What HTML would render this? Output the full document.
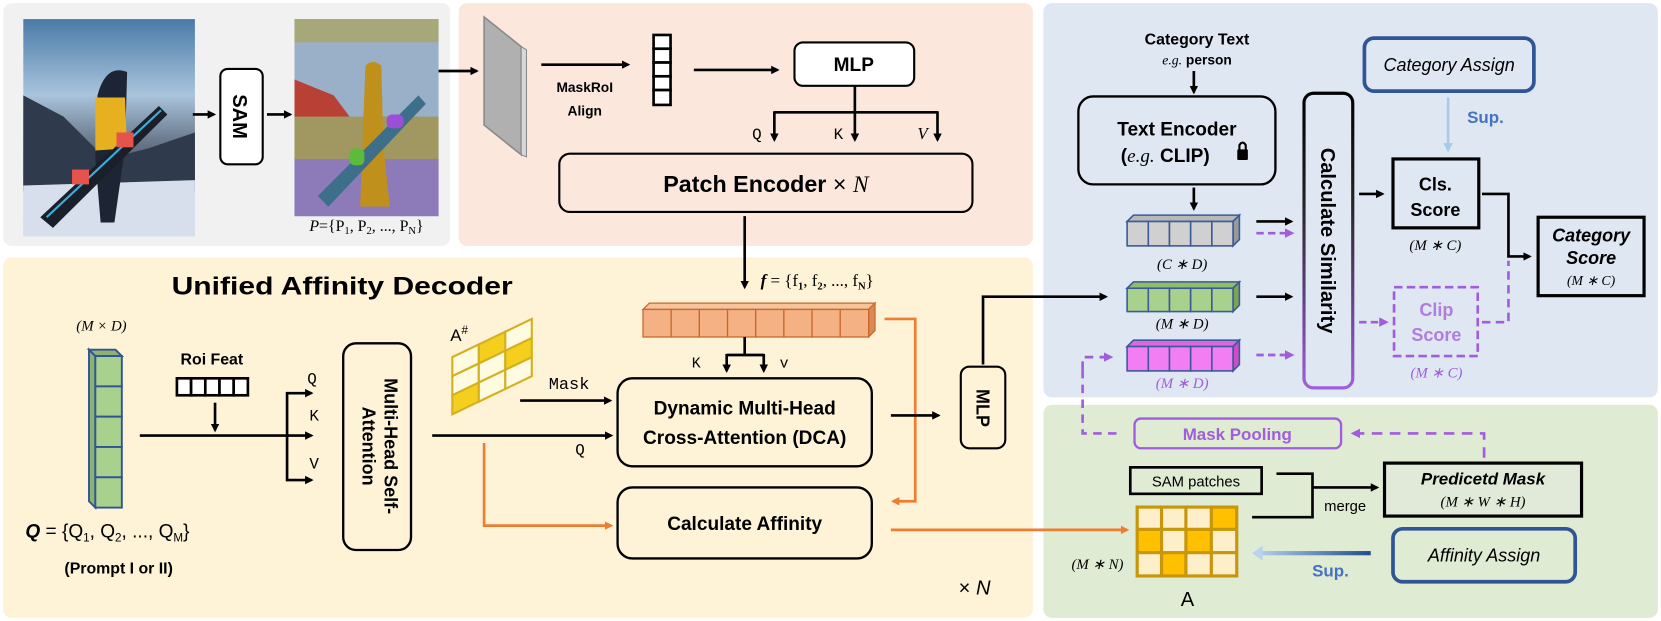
<!DOCTYPE html>
<html><head><meta charset="utf-8"><style>
html,body{margin:0;padding:0;background:#fff;overflow:hidden;}
svg{display:block;}
text{font-family:"Liberation Sans",sans-serif;}
.b{font-weight:bold;}
.m{font-family:"Liberation Serif",serif;font-style:italic;}
.mono{font-family:"Liberation Mono",monospace;}
</style></head><body>
<svg width="1661" height="621" viewBox="0 0 1568 586" preserveAspectRatio="none" xmlns="http://www.w3.org/2000/svg">
<defs>
<marker id="ab" markerWidth="8" markerHeight="8" refX="6" refY="4" orient="auto" markerUnits="userSpaceOnUse"><path d="M0,0 L8,4 L0,8 z" fill="#000"/></marker>
<marker id="ao" markerWidth="8" markerHeight="8" refX="6" refY="4" orient="auto" markerUnits="userSpaceOnUse"><path d="M0,0 L8,4 L0,8 z" fill="#ed7d31"/></marker>
<marker id="ap" markerWidth="9" markerHeight="9" refX="6" refY="4.5" orient="auto" markerUnits="userSpaceOnUse"><path d="M0,0 L9,4.5 L0,9 z" fill="#a25ddc"/></marker>
<marker id="al" markerWidth="9" markerHeight="9" refX="6" refY="4.5" orient="auto" markerUnits="userSpaceOnUse"><path d="M0,0 L9,4.5 L0,9 z" fill="#a9c9e8"/></marker>
<linearGradient id="sky" x1="0" y1="0" x2="0" y2="1"><stop offset="0" stop-color="#4a7aa8"/><stop offset="0.35" stop-color="#a9c4dc"/><stop offset="0.55" stop-color="#6d7d90"/><stop offset="0.75" stop-color="#3c4250"/><stop offset="0.8" stop-color="#dfe6f0"/><stop offset="1" stop-color="#c9d3e4"/></linearGradient>
<linearGradient id="sim" x1="0" y1="0" x2="0" y2="1"><stop offset="0" stop-color="#000"/><stop offset="0.35" stop-color="#222"/><stop offset="1" stop-color="#a25ddc"/></linearGradient>
<linearGradient id="sup" gradientUnits="userSpaceOnUse" x1="1294" y1="0" x2="1185" y2="0"><stop offset="0" stop-color="#1f4e8c"/><stop offset="1" stop-color="#b9d3ee"/></linearGradient>
</defs>

<!-- panels -->
<rect x="3" y="3" width="422" height="229" rx="8" fill="#f1f1f1"/>
<rect x="433" y="3" width="542" height="229" rx="8" fill="#fbe7dc"/>
<rect x="3" y="243" width="972" height="340" rx="8" fill="#fef2d7"/>
<rect x="985" y="3" width="580" height="372" rx="8" fill="#dfe7f2"/>
<rect x="985" y="382" width="580" height="201" rx="8" fill="#dfebd3"/>

<!-- photo 1 -->
<rect x="22" y="18" width="162" height="205" fill="url(#sky)"/>
<path d="M22,90 L60,110 L100,150 L140,140 L184,125 L184,180 L22,180z" fill="#2f3a4c"/>
<path d="M22,175 L184,170 L184,223 L22,223z" fill="#d7dfec"/>
<path d="M92,90 Q100,60 120,68 L118,140 L108,210 L95,210 L90,150z" fill="#1d2433"/>
<path d="M90,92 L118,92 L120,140 L90,142z" fill="#e6b020"/>
<path d="M38,205 L150,100 L158,108 L50,215z" fill="#1a1f2a"/>
<path d="M44,205 L152,104" stroke="#3ab0e0" stroke-width="2"/>
<rect x="68" y="160" width="16" height="14" fill="#e5534b"/>
<rect x="110" y="125" width="16" height="14" fill="#e5534b"/>
<path d="M182,108 L202,108" stroke="#000" stroke-width="2.5" marker-end="url(#ab)"/>
<rect x="208" y="65" width="40" height="90" rx="7" fill="#fff" stroke="#000" stroke-width="2"/>
<text class="b" font-size="19" transform="translate(220,110) rotate(90)" text-anchor="middle">SAM</text>
<path d="M252,108 L274,108" stroke="#000" stroke-width="2.5" marker-end="url(#ab)"/>
<!-- photo 2 -->
<rect x="278" y="18" width="136" height="186" fill="#9ab0c8"/>
<rect x="278" y="18" width="136" height="22" fill="#a6a87a"/>
<path d="M278,75 L315,90 L330,110 L278,112z" fill="#b84034"/>
<rect x="278" y="110" width="136" height="45" fill="#a09860"/>
<rect x="278" y="150" width="136" height="54" fill="#8d7ab8"/>
<path d="M345,62 Q352,55 360,62 L362,140 L368,195 L340,195 L342,140z" fill="#c0901c"/>
<path d="M300,185 L395,90 L402,98 L310,195z" fill="#3d6e8a"/>
<rect x="330" y="140" width="14" height="16" rx="5" fill="#5dbb3c"/>
<rect x="365" y="108" width="16" height="13" rx="5" fill="#9c4fd6"/>
<text x="346" y="218" font-size="15" text-anchor="middle" class="m">P<tspan font-style="normal">={P</tspan><tspan font-style="normal" font-size="10" dy="3">1</tspan><tspan font-style="normal" dy="-3">, P</tspan><tspan font-style="normal" font-size="10" dy="3">2</tspan><tspan font-style="normal" dy="-3">, ..., P</tspan><tspan font-style="normal" font-size="10" dy="3">N</tspan><tspan font-style="normal" dy="-3">}</tspan></text>

<!-- top peach -->
<path d="M414,67 L450,67" stroke="#000" stroke-width="2.5" marker-end="url(#ab)"/>
<path d="M457,16 L492,44 L492,146 L457,118z" fill="#b0b0b0" stroke="#8a8a8a" stroke-width="1.5"/>
<path d="M492,44 L497,47 L497,148 L492,146z" fill="#d8d8d8" stroke="#8a8a8a"/>
<path d="M511,61 L593,61" stroke="#000" stroke-width="2.5" marker-end="url(#ab)"/>
<text x="552" y="87" font-size="13" class="b" text-anchor="middle">MaskRoI</text>
<text x="552" y="109" font-size="13" class="b" text-anchor="middle">Align</text>
<g fill="#fff" stroke="#000" stroke-width="2.5"><rect x="617" y="33" width="16" height="13"/><rect x="617" y="46" width="16" height="13"/><rect x="617" y="59" width="16" height="13"/><rect x="617" y="72" width="16" height="13"/><rect x="617" y="85" width="16" height="14"/></g>
<path d="M655,66 L734,66" stroke="#000" stroke-width="2.5" marker-end="url(#ab)"/>
<rect x="750" y="40" width="113" height="41" rx="8" fill="#fff" stroke="#000" stroke-width="2"/>
<text x="806" y="67" font-size="18" class="b" text-anchor="middle">MLP</text>
<path d="M807,81 L807,132" stroke="#000" stroke-width="2.5" marker-end="url(#ab)"/>
<path d="M731,106 L885,106" fill="none" stroke="#000" stroke-width="2.5"/>
<path d="M731,105 L731,132" stroke="#000" stroke-width="2.5" marker-end="url(#ab)"/>
<path d="M885,105 L885,132" stroke="#000" stroke-width="2.5" marker-end="url(#ab)"/>
<text x="710" y="131" font-size="15" class="mono">Q</text>
<text x="787" y="131" font-size="15" class="mono">K</text>
<text x="866" y="131" font-size="16" class="m">V</text>
<rect x="528" y="145" width="390" height="55" rx="10" fill="#fbe7dc" stroke="#000" stroke-width="2"/>
<text x="723" y="181" font-size="22" class="b" text-anchor="middle">Patch Encoder <tspan font-weight="normal">×</tspan> <tspan class="m" font-weight="normal">N</tspan></text>
<path d="M703,204 L703,271" stroke="#000" stroke-width="2.5" marker-end="url(#ab)"/>
<text x="718" y="270" font-size="16" class="m" font-weight="bold">f<tspan font-weight="normal" font-style="normal"> = {f</tspan><tspan font-style="normal" font-size="10" dy="3">1</tspan><tspan font-style="normal" font-weight="normal" dy="-3">, f</tspan><tspan font-style="normal" font-size="10" dy="3">2</tspan><tspan font-style="normal" font-weight="normal" dy="-3">, ..., f</tspan><tspan font-style="normal" font-size="10" dy="3">N</tspan><tspan font-style="normal" font-weight="normal" dy="-3">}</tspan></text>

<!-- Decoder -->
<text x="162" y="278" font-size="24" class="b" textLength="322" lengthAdjust="spacingAndGlyphs">Unified Affinity Decoder</text>
<text x="72" y="312" font-size="14" class="m">(M × D)</text>
<g stroke="#2f5597" stroke-width="1.8" fill="#a9d18e">
<path d="M84,330 L90,336 L90,479 L84,473z" fill="#8db373"/>
<path d="M84,330 L109,330 L115,336 L90,336z" fill="#8db373"/>
<rect x="90" y="336" width="25" height="28.6"/><rect x="90" y="364.6" width="25" height="28.6"/><rect x="90" y="393.2" width="25" height="28.6"/><rect x="90" y="421.8" width="25" height="28.6"/><rect x="90" y="450.4" width="25" height="28.6"/>
</g>
<text x="24" y="507" font-size="18" font-family="Liberation Serif"><tspan font-style="italic" font-weight="bold">Q</tspan> = {Q<tspan font-size="11" dy="4">1</tspan><tspan dy="-4">, Q</tspan><tspan font-size="11" dy="4">2</tspan><tspan dy="-4">, ..., Q</tspan><tspan font-size="11" dy="4">M</tspan><tspan dy="-4">}</tspan></text>
<text x="112" y="541" font-size="15" class="b" text-anchor="middle">(Prompt I or II)</text>
<text x="200" y="344" font-size="15" class="b" text-anchor="middle">Roi Feat</text>
<g fill="#fff" stroke="#000" stroke-width="2.5"><rect x="167" y="357" width="13.4" height="16"/><rect x="180.4" y="357" width="13.4" height="16"/><rect x="193.8" y="357" width="13.4" height="16"/><rect x="207.2" y="357" width="13.4" height="16"/><rect x="220.6" y="357" width="13.4" height="16"/></g>
<path d="M203,380 L203,406" stroke="#000" stroke-width="2.5" marker-end="url(#ab)"/>
<path d="M132,411 L294,411" stroke="#000" stroke-width="2.5" marker-end="url(#ab)"/>
<path d="M271,370 L271,454" stroke="#000" stroke-width="2.5"/>
<path d="M270,371 L294,371" stroke="#000" stroke-width="2.5" marker-end="url(#ab)"/>
<path d="M270,453 L294,453" stroke="#000" stroke-width="2.5" marker-end="url(#ab)"/>
<text x="290" y="362" font-size="15" class="mono">Q</text>
<text x="292" y="397" font-size="15" class="mono">K</text>
<text x="292" y="442" font-size="15" class="mono">V</text>
<rect x="324" y="324" width="64" height="195" rx="12" fill="#fef2d7" stroke="#000" stroke-width="2.2"/>
<text font-size="17" class="b" text-anchor="middle" transform="translate(363,421) rotate(90)">Multi-Head Self-</text>
<text font-size="17" class="b" text-anchor="middle" transform="translate(342,421) rotate(90)">Attention</text>
<!-- A# -->
<text x="425" y="322" font-size="16" font-family="Liberation Serif">A<tspan font-size="11" dy="-7">#</tspan></text>
<g stroke="#d4b020" stroke-width="2">
<path d="M427,337 L452,325 L452,343 L427,355z" fill="#fffbe0"/>
<path d="M452,325 L477,313 L477,331 L452,343z" fill="#f5cf1e"/>
<path d="M477,313 L502,301 L502,319 L477,331z" fill="#fffbe0"/>
<path d="M427,355 L452,343 L452,361 L427,373z" fill="#fffbe0"/>
<path d="M452,343 L477,331 L477,349 L452,361z" fill="#fffbe0"/>
<path d="M477,331 L502,319 L502,337 L477,349z" fill="#f5cf1e"/>
<path d="M427,373 L452,361 L452,379 L427,391z" fill="#f5cf1e"/>
<path d="M452,361 L477,349 L477,367 L452,379z" fill="#fffbe0"/>
<path d="M477,349 L502,337 L502,355 L477,367z" fill="#fffbe0"/>
</g>
<text x="518" y="367" font-size="16" class="mono">Mask</text>
<path d="M491,378 L576,378" stroke="#000" stroke-width="2.5" marker-end="url(#ab)"/>
<path d="M408,411 L577,411" stroke="#000" stroke-width="2.5" marker-end="url(#ab)"/>
<text x="543" y="429" font-size="15" class="mono">Q</text>
<path d="M457,418 L457,496 L577,496" fill="none" stroke="#ed7d31" stroke-width="2.5" marker-end="url(#ao)"/>
<rect x="583" y="357" width="240" height="83" rx="14" fill="#fef2d7" stroke="#000" stroke-width="2.2"/>
<text x="703" y="391" font-size="18" class="b" text-anchor="middle">Dynamic Multi-Head</text>
<text x="703" y="419" font-size="18" class="b" text-anchor="middle">Cross-Attention (DCA)</text>
<rect x="583" y="460" width="240" height="67" rx="14" fill="#fef2d7" stroke="#000" stroke-width="2.2"/>
<text x="703" y="500" font-size="18" class="b" text-anchor="middle">Calculate Affinity</text>
<!-- orange bar -->
<g stroke="#c8682c" stroke-width="1.2" fill="#f4b183">
<path d="M607,292 L613,286 L826,286 L820,292z" fill="#f7c39b"/>
<path d="M820,292 L826,286 L826,312 L820,318z" fill="#d98a55"/>
<rect x="607" y="292" width="26.6" height="26"/><rect x="633.6" y="292" width="26.6" height="26"/><rect x="660.2" y="292" width="26.6" height="26"/><rect x="686.8" y="292" width="26.6" height="26"/><rect x="713.4" y="292" width="26.6" height="26"/><rect x="740" y="292" width="26.6" height="26"/><rect x="766.6" y="292" width="26.6" height="26"/><rect x="793.2" y="292" width="26.8" height="26"/>
</g>
<path d="M703,318 L703,335 M686,335 L721,335" stroke="#000" stroke-width="2.5"/>
<path d="M686,334 L686,350" stroke="#000" stroke-width="2.5" marker-end="url(#ab)"/>
<path d="M721,334 L721,350" stroke="#000" stroke-width="2.5" marker-end="url(#ab)"/>
<text x="653" y="347" font-size="14" class="mono">K</text>
<text x="736" y="347" font-size="14" class="mono">v</text>
<path d="M835,301 L864,301 L864,473 L843,473" fill="none" stroke="#ed7d31" stroke-width="2.5" marker-end="url(#ao)"/>
<path d="M841,392 L886,392" stroke="#000" stroke-width="2.5" marker-end="url(#ab)"/>
<rect x="907" y="346" width="42" height="77" rx="8" fill="#fef2d7" stroke="#000" stroke-width="2"/>
<text font-size="17" class="b" text-anchor="middle" transform="translate(922,385) rotate(90)">MLP</text>
<path d="M928,344 L928,280 L1044,280" fill="none" stroke="#000" stroke-width="2.5" marker-end="url(#ab)"/>
<path d="M841,500 L1064,500" stroke="#ed7d31" stroke-width="2.5" marker-end="url(#ao)"/>
<text x="905" y="561" font-size="19" font-family="Liberation Serif">× <tspan font-style="italic">N</tspan></text>

<!-- blue panel -->
<text x="1130" y="42" font-size="15" class="b" text-anchor="middle">Category Text</text>
<text x="1130" y="61" font-size="13" class="b" text-anchor="middle"><tspan class="m" font-weight="normal">e.g.</tspan> person</text>
<path d="M1127,67 L1127,87" stroke="#000" stroke-width="2.5" marker-end="url(#ab)"/>
<rect x="1018" y="91" width="186" height="83" rx="14" fill="#dfe7f2" stroke="#000" stroke-width="2.2"/>
<text x="1111" y="128" font-size="18" class="b" text-anchor="middle">Text Encoder</text>
<text x="1100" y="153" font-size="18" class="b" text-anchor="middle">(<tspan class="m" font-weight="normal">e.g.</tspan> CLIP)</text>
<rect x="1168" y="141" width="10" height="10" rx="1" fill="#000"/><path d="M1170,142 L1170,137 Q1173,132 1176,137 L1176,142" fill="none" stroke="#000" stroke-width="2"/>
<path d="M1127,177 L1127,197" stroke="#000" stroke-width="2.5" marker-end="url(#ab)"/>
<g stroke="#3b5a9a" stroke-width="1.5">
<path d="M1064,209 L1070,203 L1170,203 L1164,209z" fill="#b8b8b8"/>
<path d="M1164,209 L1170,203 L1170,226 L1164,232z" fill="#999"/>
<g fill="#d0d0d0"><rect x="1064" y="209" width="20" height="23"/><rect x="1084" y="209" width="20" height="23"/><rect x="1104" y="209" width="20" height="23"/><rect x="1124" y="209" width="20" height="23"/><rect x="1144" y="209" width="20" height="23"/></g>
<path d="M1064,272 L1070,266 L1170,266 L1164,272z" fill="#8fbd6a"/>
<path d="M1164,272 L1170,266 L1170,288 L1164,294z" fill="#7aa558"/>
<g fill="#a9d18e"><rect x="1064" y="272" width="20" height="22"/><rect x="1084" y="272" width="20" height="22"/><rect x="1104" y="272" width="20" height="22"/><rect x="1124" y="272" width="20" height="22"/><rect x="1144" y="272" width="20" height="22"/></g>
<path d="M1064,327 L1070,321 L1170,321 L1164,327z" fill="#e066e0"/>
<path d="M1164,327 L1170,321 L1170,344 L1164,350z" fill="#c94fc9"/>
<g fill="#f37ef3"><rect x="1064" y="327" width="20" height="23"/><rect x="1084" y="327" width="20" height="23"/><rect x="1104" y="327" width="20" height="23"/><rect x="1124" y="327" width="20" height="23"/><rect x="1144" y="327" width="20" height="23"/></g>
</g>
<text x="1116" y="254" font-size="14" class="m" text-anchor="middle">(C ∗ D)</text>
<text x="1116" y="310" font-size="14" class="m" text-anchor="middle">(M ∗ D)</text>
<text x="1116" y="366" font-size="14" class="m" text-anchor="middle" fill="#a25ddc">(M ∗ D)</text>
<path d="M1186,209 L1219,209" stroke="#000" stroke-width="2.5" marker-end="url(#ab)"/>
<path d="M1186,220 L1219,220" stroke="#a25ddc" stroke-width="2.5" stroke-dasharray="7,4" marker-end="url(#ap)"/>
<path d="M1186,280 L1219,280" stroke="#000" stroke-width="2.5" marker-end="url(#ab)"/>
<path d="M1186,335 L1219,335" stroke="#a25ddc" stroke-width="2.5" stroke-dasharray="7,4" marker-end="url(#ap)"/>
<rect x="1231" y="88" width="46" height="278" rx="9" fill="#dfe7f2" stroke="url(#sim)" stroke-width="3"/>
<text font-size="19" class="b" text-anchor="middle" transform="translate(1247,227) rotate(90)">Calculate Similarity</text>
<rect x="1288" y="36" width="160" height="50" rx="9" fill="#dfe7f2" stroke="#2f5597" stroke-width="3.5"/>
<text x="1368" y="67" font-size="17" font-style="italic" text-anchor="middle">Category Assign</text>
<path d="M1367,92 L1367,141" stroke="#a9c9e8" stroke-width="2.5" marker-end="url(#al)"/>
<text x="1385" y="116" font-size="16" class="b" fill="#4472c4">Sup.</text>
<path d="M1283,183 L1305,183" stroke="#000" stroke-width="2.5" marker-end="url(#ab)"/>
<rect x="1315" y="150" width="81" height="65" fill="#dfe7f2" stroke="#000" stroke-width="3"/>
<text x="1355" y="180" font-size="17" class="b" text-anchor="middle">Cls.</text>
<text x="1355" y="204" font-size="17" class="b" text-anchor="middle">Score</text>
<text x="1355" y="236" font-size="14" class="m" text-anchor="middle">(M ∗ C)</text>
<path d="M1399,183 L1424,183 L1424,242 L1444,242" fill="none" stroke="#000" stroke-width="2.5" marker-end="url(#ab)"/>
<rect x="1452" y="205" width="100" height="74" fill="#dfe7f2" stroke="#000" stroke-width="3"/>
<text x="1502" y="228" font-size="17" class="b" font-style="italic" text-anchor="middle">Category</text>
<text x="1502" y="249" font-size="17" class="b" font-style="italic" text-anchor="middle">Score</text>
<text x="1502" y="269" font-size="13" class="m" text-anchor="middle">(M ∗ C)</text>
<path d="M1283,304 L1308,304" stroke="#a25ddc" stroke-width="2.5" stroke-dasharray="7,4" marker-end="url(#ap)"/>
<rect x="1316" y="271" width="79" height="65" fill="none" stroke="#a25ddc" stroke-width="2.5" stroke-dasharray="8,4"/>
<text x="1356" y="298" font-size="17" class="b" fill="#b07de0" text-anchor="middle">Clip</text>
<text x="1356" y="322" font-size="17" class="b" fill="#b07de0" text-anchor="middle">Score</text>
<text x="1356" y="356" font-size="14" class="m" fill="#a25ddc" text-anchor="middle">(M ∗ C)</text>
<path d="M1399,304 L1424,304 L1424,246" fill="none" stroke="#a25ddc" stroke-width="2.5" stroke-dasharray="8,5"/>

<!-- green panel -->
<path d="M1022,349 L1022,409 L1060,409" fill="none" stroke="#a25ddc" stroke-width="2.5" stroke-dasharray="8,6"/>
<path d="M1022,349 L1022,337 L1048,337" fill="none" stroke="#a25ddc" stroke-width="2.5" stroke-dasharray="8,6" marker-end="url(#ap)"/>
<rect x="1071" y="395" width="195" height="28" rx="6" fill="#dfebd3" stroke="#a25ddc" stroke-width="2.2"/>
<text x="1168" y="415" font-size="16" class="b" fill="#a25ddc" text-anchor="middle">Mask Pooling</text>
<path d="M1401,432 L1401,409 L1278,409" fill="none" stroke="#a25ddc" stroke-width="2.5" stroke-dasharray="10,7" marker-end="url(#ap)"/>
<rect x="1067" y="441" width="124" height="25" fill="#dfebd3" stroke="#000" stroke-width="2.5"/>
<text x="1129" y="459" font-size="14" text-anchor="middle">SAM patches</text>
<path d="M1205,447 L1239,447 L1239,488 L1182,488" fill="none" stroke="#000" stroke-width="2.5"/>
<path d="M1239,460 L1300,460" stroke="#000" stroke-width="2.5" marker-end="url(#ab)"/>
<text x="1250" y="482" font-size="14">merge</text>
<rect x="1307" y="437" width="186" height="50" fill="#e1ead9" stroke="#000" stroke-width="3"/>
<text x="1400" y="457" font-size="16" class="b" font-style="italic" text-anchor="middle">Predicetd Mask</text>
<text x="1400" y="478" font-size="14" class="m" text-anchor="middle">(M ∗ W ∗ H)</text>
<rect x="1315" y="499" width="172" height="50" rx="9" fill="#dfebd3" stroke="#2f5597" stroke-width="3.5"/>
<text x="1401" y="530" font-size="17" font-style="italic" text-anchor="middle">Affinity Assign</text>
<rect x="1190" y="520" width="104" height="4" fill="url(#sup)"/>
<path d="M1192,515 L1182,522 L1192,529z" fill="#b9d3ee"/>
<text x="1256" y="544" font-size="16" class="b" fill="#4472c4" text-anchor="middle">Sup.</text>
<!-- A grid -->
<rect x="1072" y="477" width="97" height="68" fill="#c8960a"/>
<g fill="#fdefca">
<rect x="1075" y="480" width="20" height="18"/><rect x="1098" y="480" width="20" height="18"/><rect x="1121" y="480" width="21" height="18"/><rect x="1145" y="480" width="21" height="18" fill="#ffc000"/>
<rect x="1075" y="501" width="20" height="19" fill="#ffc000"/><rect x="1098" y="501" width="20" height="19"/><rect x="1121" y="501" width="21" height="19" fill="#ffc000"/><rect x="1145" y="501" width="21" height="19"/>
<rect x="1075" y="523" width="20" height="19"/><rect x="1098" y="523" width="20" height="19" fill="#ffc000"/><rect x="1121" y="523" width="21" height="19"/><rect x="1145" y="523" width="21" height="19"/>
</g>
<text x="1121" y="572" font-size="19" text-anchor="middle">A</text>
<text x="1036" y="537" font-size="14" class="m" text-anchor="middle">(M ∗ N)</text>
</svg>
</body></html>
